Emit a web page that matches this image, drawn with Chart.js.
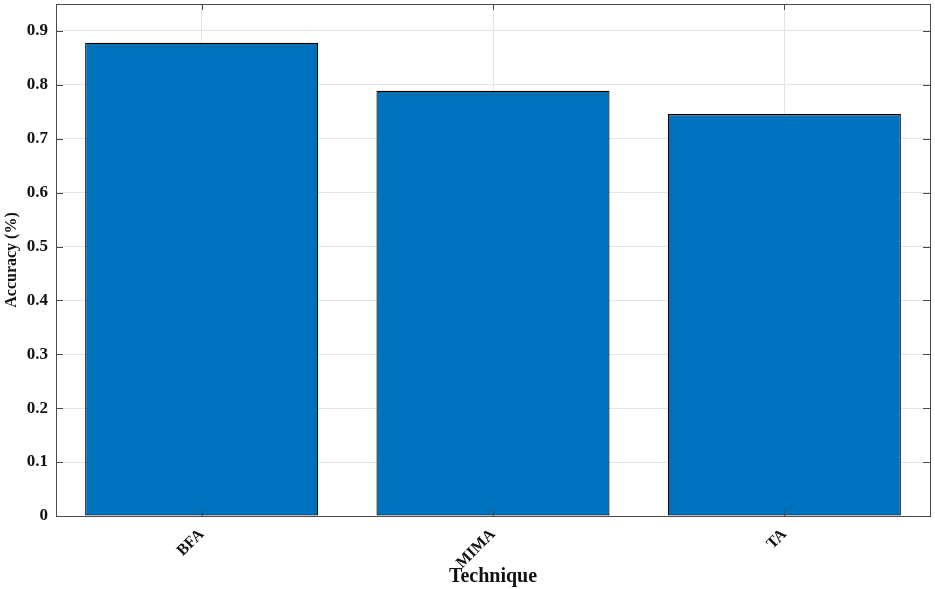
<!DOCTYPE html>
<html>
<head>
<meta charset="utf-8">
<script src="https://cdn.jsdelivr.net/npm/chart.js@4"></script>
<style>
  html, body { margin: 0; padding: 0; background: #fff; }
  #wrap { width: 935px; height: 589px; }
</style>
</head>
<body>
<div id="wrap"><canvas id="barChart" width="935" height="589"></canvas></div>
<script>
// data
const techniques = ["BFA", "MIMA", "TA"];
const accuracy = [0.878, 0.789, 0.746];
const yTicks = [0, 0.1, 0.2, 0.3, 0.4, 0.5, 0.6, 0.7, 0.8, 0.9];
const yMax = 0.95;

const serif = "'Liberation Serif', 'Times New Roman', serif";

// MATLAB style box with inward ticks on all four sides
const boxPlugin = {
    id: 'box',
    afterDraw(chart) {
        const { ctx, chartArea: a, scales } = chart;
        ctx.save();
        ctx.strokeStyle = '#4a4a4a';
        ctx.lineWidth = 1;
        ctx.strokeRect(Math.round(a.left) + 0.5, Math.round(a.top) + 0.5,
            Math.round(a.right - a.left), Math.round(a.bottom - a.top));
        ctx.beginPath();
        scales.y.ticks.forEach(t => {
            const y = Math.round(scales.y.getPixelForValue(t.value)) + 0.5;
            ctx.moveTo(a.left, y); ctx.lineTo(a.left + 7, y);
            ctx.moveTo(a.right, y); ctx.lineTo(a.right - 7, y);
        });
        techniques.forEach((c, i) => {
            const x = Math.round(scales.x.getPixelForValue(i)) + 0.5;
            ctx.moveTo(x, a.bottom); ctx.lineTo(x, a.bottom - 6);
            ctx.moveTo(x, a.top); ctx.lineTo(x, a.top + 6);
        });
        ctx.stroke();
        ctx.restore();
    }
};

new Chart(document.getElementById('barChart'), {
    type: 'bar',
    data: {
        labels: techniques,
        datasets: [{
            data: accuracy,
            backgroundColor: '#0072BD',
            borderColor: '#000',
            borderWidth: 1.2,
            borderSkipped: false,
            barPercentage: 0.8,
            categoryPercentage: 1.0
        }]
    },
    options: {
        responsive: false,
        animation: false,
        devicePixelRatio: 1,
        layout: { padding: { top: 4, right: 5, left: 0, bottom: 0 } },
        plugins: { legend: { display: false }, tooltip: { enabled: false } },
        scales: {
            x: {
                offset: true,
                grid: { offset: false, color: '#e4e4e4', drawTicks: false },
                border: { display: false },
                ticks: {
                    minRotation: 45, maxRotation: 45, padding: 9,
                    color: '#111',
                    font: { family: serif, size: 16, weight: 'bold' }
                },
                title: {
                    display: true, text: 'Technique', color: '#111',
                    padding: { top: 0, bottom: 0 },
                    font: { family: serif, size: 20, weight: 'bold' }
                },
                afterFit(scale) {
                    scale.height = 73;
                    scale.paddingLeft = 0; scale.paddingRight = 0;
                }
            },
            y: {
                min: 0, max: yMax,
                grid: { color: '#e4e4e4', drawTicks: false },
                border: { display: false },
                afterBuildTicks(scale) { scale.ticks = yTicks.map(v => ({ value: v })); },
                ticks: {
                    padding: 8, color: '#111',
                    font: { family: serif, size: 17, weight: 'bold' },
                    callback: v => v === 0 ? '0' : v.toFixed(1)
                },
                title: {
                    display: true, text: 'Accuracy (%)', color: '#111',
                    padding: { top: 2, bottom: 0 },
                    font: { family: serif, size: 16, weight: 'bold' }
                },
                afterFit(scale) {
                    scale.width = 56;
                    scale.paddingTop = 0; scale.paddingBottom = 0;
                }
            }
        }
    },
    plugins: [boxPlugin]
});
</script>
</body>
</html>
